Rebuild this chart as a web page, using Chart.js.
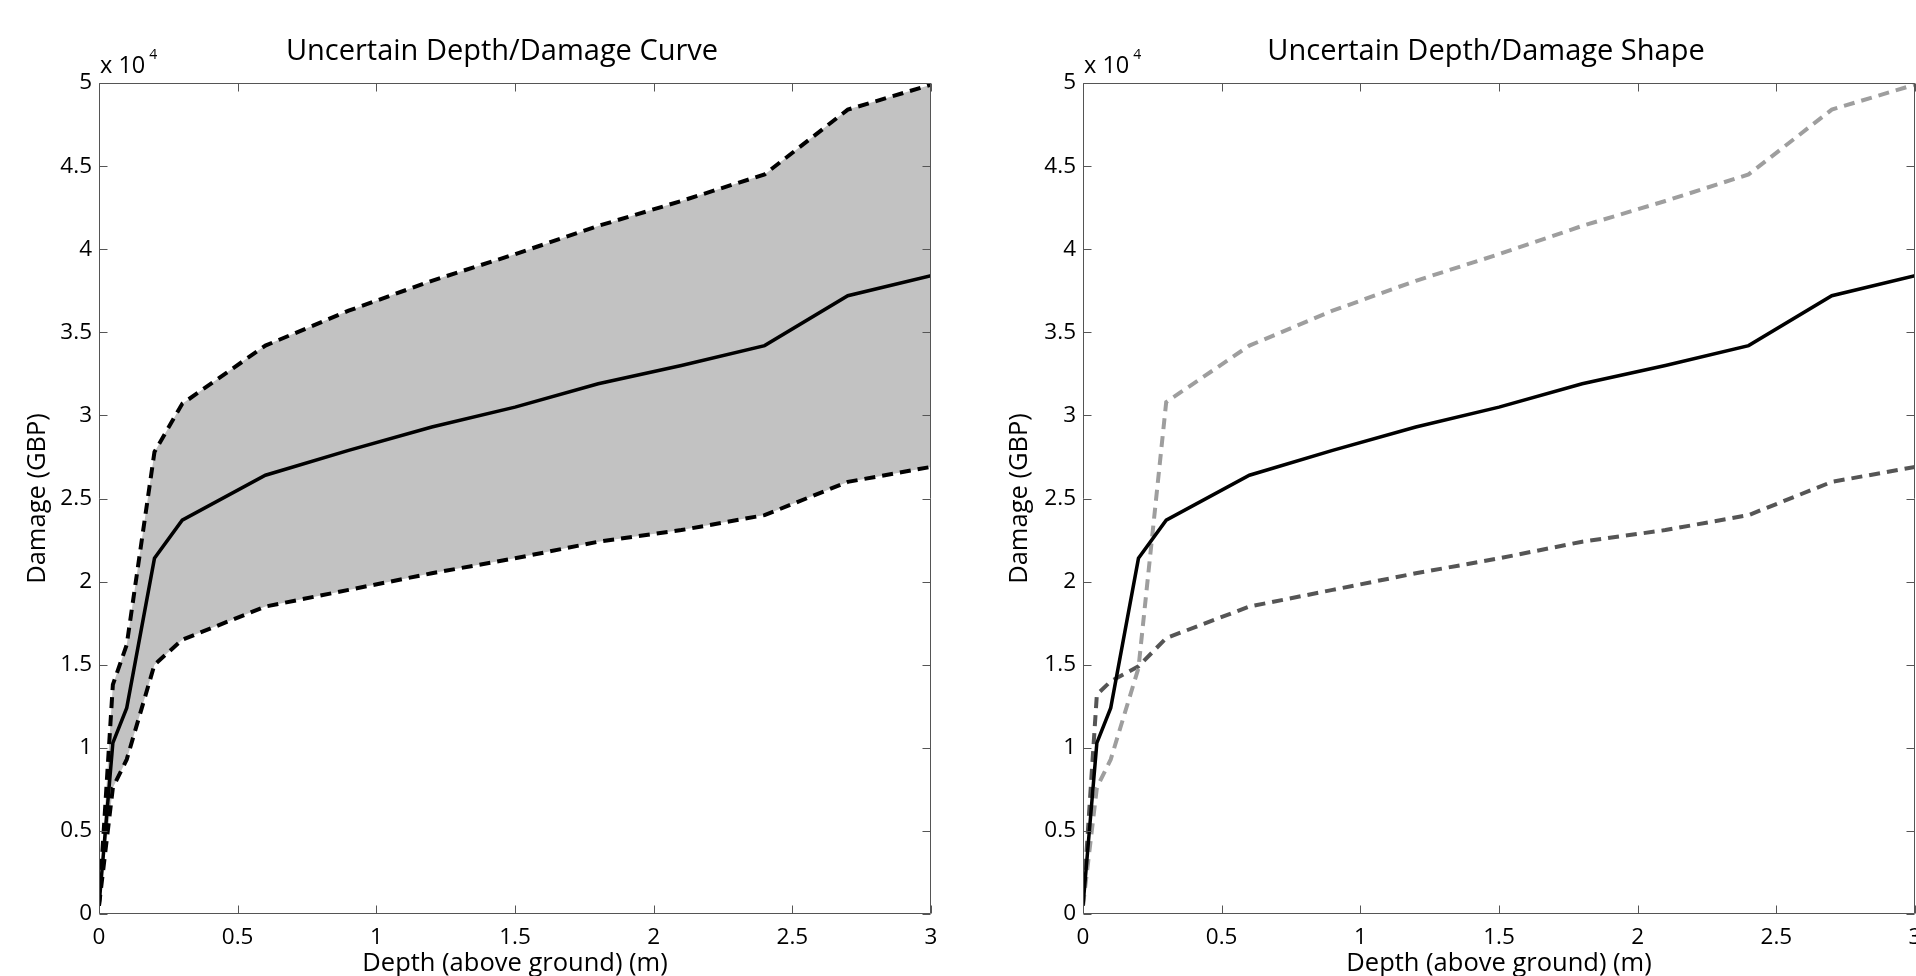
<!DOCTYPE html>
<html>
<head>
<meta charset="utf-8">
<script src="https://cdn.jsdelivr.net/npm/chart.js@4/dist/chart.umd.min.js"></script>
<style>
  html, body { margin: 0; padding: 0; background: #fff; overflow: hidden; }
  canvas { position: absolute; top: 0; }
  #left { left: 0; }
  #right { left: 960px; }
</style>
</head>
<body>
<canvas id="left" width="960" height="976"></canvas>
<canvas id="right" width="956" height="976"></canvas>
<script>
// depth steps (m) and damage values (GBP)
const depth = [0, 0.05, 0.1, 0.2, 0.3, 0.6, 0.9, 1.2, 1.5, 1.8, 2.1, 2.4, 2.7, 3.0];
const meanDamage  = [500, 10300, 12400, 21400, 23700, 26400, 27900, 29300, 30500, 31900, 33000, 34200, 37200, 38400];
const upperDamage = [500, 13800, 16200, 27800, 30700, 34200, 36300, 38100, 39700, 41400, 42900, 44500, 48400, 49900];
const lowerDamage = [500, 7600, 9300, 15000, 16500, 18500, 19500, 20500, 21400, 22400, 23100, 24000, 26000, 26900];
// shape scenarios (right panel)
const shapeHigh = [500, 7600, 9300, 14800, 30800, 34200, 36300, 38100, 39700, 41400, 42900, 44500, 48400, 49900];
const shapeLow  = [500, 13200, 14000, 14900, 16600, 18500, 19500, 20500, 21400, 22400, 23100, 24000, 26000, 26900];

const titles = ['Uncertain Depth/Damage Curve', 'Uncertain Depth/Damage Shape'];
const xTitle = 'Depth (above ground) (m)';
const yTitle = 'Damage (GBP)';

const FONT = "'Open Sans', 'Liberation Sans', sans-serif";

function pts(arr) {
  return depth.map((d, i) => ({ x: d, y: arr[i] }));
}

// box round the plot with inward ticks on all four sides, the title and the x 10^4 note
const boxPlugin = {
  id: 'box',
  afterDatasetsDraw(chart) {
    const { ctx, chartArea: a, scales: { x, y } } = chart;
    const L = Math.round(a.left) + 0.5, R = Math.round(a.right) - 0.5;
    const T = Math.round(a.top) + 0.5, B = Math.round(a.bottom) - 0.5;
    const tl = 8;
    ctx.save();
    ctx.strokeStyle = '#555';
    ctx.lineWidth = 1;
    ctx.beginPath();
    ctx.rect(L, T, R - L, B - T);
    x.ticks.forEach(t => {
      const px = Math.round(x.getPixelForValue(t.value)) + 0.5;
      ctx.moveTo(px, B); ctx.lineTo(px, B - tl);
      ctx.moveTo(px, T); ctx.lineTo(px, T + tl);
    });
    y.ticks.forEach(t => {
      const py = Math.round(y.getPixelForValue(t.value)) + 0.5;
      ctx.moveTo(L, py); ctx.lineTo(L + tl, py);
      ctx.moveTo(R, py); ctx.lineTo(R - tl, py);
    });
    ctx.stroke();

    ctx.fillStyle = '#000';
    // title
    ctx.textAlign = 'center';
    ctx.textBaseline = 'middle';
    ctx.font = '29px ' + FONT;
    ctx.fillText(chart.options.plugins.box.title, (a.left + a.right) / 2 - 13, 52);

    // exponent note
    ctx.textAlign = 'left';
    ctx.textBaseline = 'alphabetic';
    ctx.font = '23.5px ' + FONT;
    const s = 'x 10';
    ctx.fillText(s, a.left + 1, a.top - 10);
    const w = ctx.measureText(s).width;
    ctx.font = '14px ' + FONT;
    ctx.fillText('4', a.left + 1 + w + 4, a.top - 24);
    ctx.restore();
  }
};

function makeChart(id, title, datasets, yAxisWidth, yTitlePad, padRight) {
  return new Chart(document.getElementById(id), {
    type: 'line',
    data: { datasets: datasets },
    options: {
      responsive: false,
      animation: false,
      layout: { padding: { left: 0, right: padRight, top: 83, bottom: 0 } },
      plugins: {
        legend: { display: false },
        tooltip: { enabled: false },
        filler: { drawTime: 'beforeDatasetsDraw' },
        title: { display: false },
        box: { title: title }
      },
      elements: { point: { radius: 0 }, line: { tension: 0 } },
      scales: {
        x: {
          type: 'linear',
          min: 0, max: 3,
          grid: { display: false, drawTicks: false },
          border: { display: false },
          ticks: {
            stepSize: 0.5,
            color: '#000',
            padding: 12,
            maxRotation: 0,
            font: { family: FONT, size: 22.5, lineHeight: 1 },
            callback: v => String(v)
          },
          title: {
            display: true,
            text: xTitle,
            color: '#000',
            font: { family: FONT, size: 25.5, lineHeight: 1 },
            padding: { top: 0, bottom: 0 }
          },
          afterFit(scale) {
            scale.height = 62;
            scale.paddingLeft = 0;
            scale.paddingRight = 0;
          }
        },
        y: {
          min: 0, max: 50000,
          grid: { display: false, drawTicks: false },
          border: { display: false },
          ticks: {
            stepSize: 5000,
            color: '#000',
            padding: 7,
            font: { family: FONT, size: 22.5, lineHeight: 1 },
            callback: v => String(v / 10000)
          },
          title: {
            display: true,
            text: yTitle,
            color: '#000',
            font: { family: FONT, size: 25.5, lineHeight: 1 },
            padding: { top: yTitlePad, bottom: 0 }
          },
          afterFit(scale) { scale.width = yAxisWidth; }
        }
      }
    },
    plugins: [boxPlugin]
  });
}

makeChart('left', titles[0], [
  {
    data: pts(meanDamage),
    borderColor: '#000',
    borderWidth: 3.5,
    fill: false
  },
  {
    data: pts(upperDamage),
    borderColor: '#000',
    borderWidth: 4,
    borderDash: [11, 7],
    backgroundColor: '#c2c2c2',
    fill: '+1'
  },
  {
    data: pts(lowerDamage),
    borderColor: '#000',
    borderWidth: 4,
    borderDash: [11, 7],
    fill: false
  }
], 99, 25, 29);

makeChart('right', titles[1], [
  {
    data: pts(meanDamage),
    borderColor: '#000',
    borderWidth: 3.5,
    fill: false
  },
  {
    data: pts(shapeHigh),
    borderColor: '#9e9e9e',
    borderWidth: 4,
    borderDash: [11, 7],
    fill: false
  },
  {
    data: pts(shapeLow),
    borderColor: '#555',
    borderWidth: 4,
    borderDash: [11, 7],
    fill: false
  }
], 123, 47, 1);
</script>
</body>
</html>
